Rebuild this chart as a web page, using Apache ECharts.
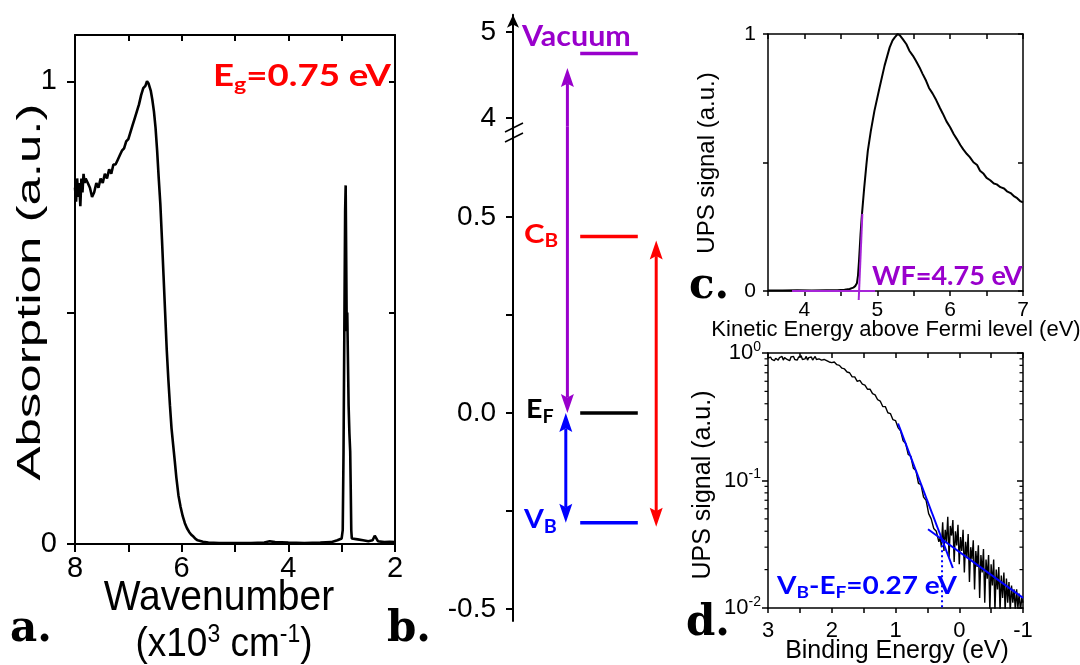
<!DOCTYPE html>
<html><head><meta charset="utf-8">
<script src="https://cdn.jsdelivr.net/npm/echarts@6/dist/echarts.min.js"></script>
<style>html,body{margin:0;padding:0;background:#fff}#c{width:1080px;height:665px}</style>
</head><body><div id="c"></div>
<script>
// ---------------- DATA ----------------
// Panel a: absorption vs wavenumber (x10^3 cm^-1)
const absorption = [
[8.00,0.77],[7.98,0.74],[7.96,0.79],[7.94,0.75],[7.92,0.78],[7.90,0.73],[7.88,0.79],[7.86,0.76],[7.84,0.80],[7.82,0.78],
[7.80,0.79],[7.76,0.78],[7.72,0.77],[7.68,0.75],[7.64,0.76],[7.60,0.78],[7.56,0.77],[7.52,0.79],[7.48,0.78],[7.44,0.80],
[7.40,0.79],[7.36,0.81],[7.32,0.80],[7.28,0.82],[7.24,0.82],[7.20,0.83],[7.16,0.84],[7.12,0.85],[7.08,0.855],[7.04,0.87],
[7.00,0.875],[6.96,0.89],[6.92,0.905],[6.88,0.92],[6.84,0.935],[6.80,0.95],[6.76,0.97],[6.72,0.985],[6.68,0.99],[6.65,1.0],
[6.62,0.995],[6.58,0.98],[6.55,0.96],[6.52,0.935],[6.49,0.90],[6.46,0.85],[6.43,0.79],[6.40,0.735],[6.37,0.66],[6.34,0.58],
[6.31,0.50],[6.28,0.42],[6.25,0.356],[6.22,0.30],[6.19,0.25],[6.16,0.215],[6.13,0.18],[6.10,0.144],[6.06,0.105],[6.02,0.08],
[5.98,0.06],[5.94,0.045],[5.90,0.034],[5.86,0.026],[5.82,0.02],[5.78,0.016],[5.74,0.011],[5.70,0.008],[5.60,0.005],[5.50,0.003],
[5.30,0.002],[5.00,0.002],[4.70,0.002],[4.45,0.003],[4.35,0.006],[4.25,0.004],[4.00,0.003],[3.70,0.002],[3.40,0.003],[3.20,0.004],
[3.08,0.008],[3.00,0.012],[2.98,0.03],[2.965,0.2],[2.95,0.46],[2.935,0.72],[2.925,0.775],[2.915,0.62],[2.905,0.46],[2.895,0.5],
[2.885,0.42],[2.87,0.3],[2.855,0.24],[2.84,0.2],[2.83,0.12],[2.82,0.03],[2.81,0.012],[2.70,0.01],[2.60,0.008],[2.50,0.006],
[2.42,0.008],[2.38,0.018],[2.35,0.02],[2.32,0.006],[2.20,0.004],[2.10,0.005],[2.00,0.004]
];
const aXLabels = [8, 6, 4, 2];
const aYLabels = [0, 1];
const aYTicks = [0, 0.5, 1];

// Panel b: energy levels (eV)
const levelNames = ['Vacuum', 'CB', 'EF', 'VB'];
const levelEnergies = [4.75, 0.45, 0.00, -0.28];
const bUpperTicks = [4, 5];
const bLowerTicks = [-0.5, -0.25, 0, 0.25, 0.5];
const bLowerLabels = [-0.5, 0, 0.5];
const wfArrow = [4.58, 0.00];     // vacuum-side tip, Fermi-side tip
const vbArrow = [0.00, -0.28];
const gapArrow = [0.44, -0.29];

// Panel c: UPS secondary edge
const upsKinetic = [
[3.50,0.002],[3.70,0.002],[3.90,0.003],[4.10,0.002],[4.30,0.003],[4.45,0.003],[4.55,0.005],[4.62,0.008],[4.67,0.013],[4.70,0.02],
[4.72,0.03],[4.735,0.06],[4.75,0.12],[4.77,0.22],[4.79,0.30],[4.82,0.40],[4.85,0.49],[4.87,0.545],[4.91,0.62],[4.96,0.70],
[5.03,0.79],[5.10,0.877],[5.17,0.948],[5.21,0.975],[5.24,0.987],[5.28,1.0],[5.31,0.995],[5.35,0.98],[5.40,0.96],[5.44,0.935],
[5.49,0.915],[5.53,0.896],[5.58,0.87],[5.62,0.846],[5.67,0.818],[5.71,0.79],[5.76,0.768],[5.81,0.742],[5.86,0.712],[5.90,0.69],
[5.95,0.66],[6.00,0.637],[6.05,0.61],[6.09,0.592],[6.14,0.568],[6.18,0.551],[6.23,0.533],[6.27,0.521],[6.32,0.501],[6.37,0.49],
[6.41,0.468],[6.46,0.456],[6.50,0.44],[6.55,0.431],[6.60,0.418],[6.64,0.415],[6.69,0.404],[6.74,0.399],[6.78,0.388],[6.83,0.381],
[6.88,0.368],[6.92,0.361],[6.96,0.35],[7.00,0.345]
];
const wfBaseline = [[3.83, 0], [4.97, 0]];
const wfTangent = [[4.745, -0.035], [4.795, 0.30]];

// Panel d: UPS valence band (log)
const upsBinding = [
[3.00,0.91],[2.98,0.88],[2.96,0.93],[2.94,0.89],[2.92,0.92],[2.90,0.87],[2.88,0.91],[2.86,0.94],[2.84,0.88],[2.82,0.92],
[2.80,0.90],[2.78,0.94],[2.76,0.88],[2.74,0.92],[2.72,0.95],[2.70,0.89],[2.68,0.91],[2.66,0.87],[2.64,0.93],[2.62,0.90],
[2.60,0.94],[2.58,0.89],[2.56,0.92],[2.54,0.88],[2.52,0.93],[2.50,0.90],[2.48,0.95],[2.46,0.89],[2.44,0.92],[2.42,0.90],
[2.40,0.94],[2.38,0.88],[2.36,0.92],[2.34,0.90],[2.32,0.93],[2.30,0.88],[2.28,0.91],[2.26,0.94],[2.24,0.89],[2.22,0.92],
[2.20,0.90],[2.18,0.93],[2.16,0.88],[2.14,0.91],[2.12,0.89],[2.10,0.90],[2.08,0.87],[2.06,0.89],[2.04,0.85],[2.02,0.87],
[2.00,0.84],[1.96,0.85],[1.92,0.81],[1.88,0.80],[1.84,0.76],
[1.80,0.75],[1.76,0.71],[1.72,0.70],[1.68,0.65],[1.64,0.65],[1.60,0.60],[1.56,0.61],[1.52,0.57],[1.48,0.56],[1.44,0.52],
[1.40,0.52],[1.36,0.48],[1.32,0.47],[1.28,0.43],[1.24,0.42],[1.20,0.38],[1.16,0.38],[1.12,0.34],[1.08,0.335],[1.04,0.30],
[1.00,0.295],[0.96,0.26],[0.92,0.245],[0.88,0.205],[0.84,0.195],[0.80,0.16],[0.76,0.155],[0.72,0.125],[0.68,0.12],[0.64,0.095],
[0.60,0.093],[0.56,0.074],[0.52,0.07],[0.48,0.055],[0.44,0.05],[0.40,0.042],[0.36,0.04],[0.32,0.033],
[0.30,0.036],[0.28,0.030],[0.26,0.047],[0.24,0.028],[0.22,0.041],[0.20,0.033],[0.18,0.052],[0.16,0.025],[0.14,0.044],[0.12,0.037],
[0.10,0.049],[0.08,0.023],[0.06,0.040],[0.04,0.031],[0.02,0.045],[0.00,0.022],[-0.02,0.036],[-0.04,0.028],[-0.06,0.041],[-0.08,0.019],
[-0.10,0.033],[-0.12,0.025],[-0.14,0.038],[-0.16,0.016],[-0.18,0.030],[-0.20,0.024],[-0.22,0.034],[-0.24,0.014],[-0.26,0.028],[-0.28,0.021],
[-0.30,0.031],[-0.32,0.012],[-0.34,0.026],[-0.36,0.019],[-0.38,0.029],[-0.40,0.011],[-0.42,0.024],[-0.44,0.017],[-0.46,0.026],[-0.48,0.0095],
[-0.50,0.022],[-0.52,0.015],[-0.54,0.024],[-0.56,0.0095],[-0.58,0.020],[-0.60,0.014],[-0.62,0.021],[-0.64,0.0095],[-0.66,0.018],[-0.68,0.012],
[-0.70,0.019],[-0.72,0.0095],[-0.74,0.017],[-0.76,0.011],[-0.78,0.016],[-0.80,0.0095],[-0.82,0.015],[-0.84,0.011],[-0.86,0.014],[-0.88,0.0095],
[-0.90,0.014],[-0.92,0.010],[-0.94,0.013],[-0.96,0.0095],[-0.98,0.012],[-1.00,0.011]
];
const vbFitSteep = [[0.96, 0.28], [0.10, 0.0206]];
const vbFitTail = [[0.49, 0.0415], [-1.00, 0.012]];
const vbOnset = [[0.27, 0.034], [0.27, 0.01]];
const dMinorTicks = [0.02,0.03,0.04,0.05,0.06,0.07,0.08,0.09,0.2,0.3,0.4,0.5,0.6,0.7,0.8,0.9];

// ---------------- LAYOUT / STYLE ----------------
const K = '#000', RED = '#ff0000', BLUE = '#0000ff', PURPLE = '#9900cc', PURPLE2 = '#a625d8';
const FONT = "'Liberation Sans', Arial, sans-serif";
const BFONT = "Lato, 'Open Sans', sans-serif";
const LFONT = "'DejaVu Serif', serif";
const bLevelX = [0.42, 0.78];
const bArrowX = {wf: 0.34, vb: 0.33, gap: 0.895};
const bLevelColors = [PURPLE, RED, K, BLUE];
const bUpperRange = [3.9, 5.2];
const bLowerRange = [-0.5306, 0.7306];
const dXRange = [-1, 3];

const chart = echarts.init(document.getElementById('c'));

function ax(o) {
  const base = {
    type: 'value', splitLine: {show: false},
    axisLine: {onZero: false, lineStyle: {color: K, width: 1.5}},
    axisTick: {lineStyle: {color: K, width: 1.5}},
    axisLabel: {color: K, fontFamily: FONT}
  };
  for (const k in o) {
    if (typeof o[k] === 'object' && o[k] && !Array.isArray(o[k]) && base[k] && typeof base[k] === 'object') {
      base[k] = Object.assign({}, base[k], o[k]);
    } else base[k] = o[k];
  }
  return base;
}
function line(data, xi, yi, color, width, extra) {
  return Object.assign({type: 'line', data, xAxisIndex: xi, yAxisIndex: yi, showSymbol: false, symbol: 'none',
    lineStyle: {color, width}, silent: true, animation: false}, extra || {});
}
function arrowSeries(xi, yi, items, color) {
  return {
    type: 'custom', xAxisIndex: xi, yAxisIndex: yi, clip: false, silent: true, z: 5, data: items,
    renderItem: (params, api) => {
      const p1 = api.coord([api.value(0), api.value(1)]);
      const p2 = api.coord([api.value(0), api.value(2)]);
      const hs = api.value(3), he = api.value(4);
      const dir = p2[1] > p1[1] ? 1 : -1;
      const L = 19, W = 6.5, N = 0.82;
      const ch = [];
      let s1 = p1[1], e1 = p2[1];
      if (hs) {
        ch.push({type: 'polygon', shape: {points: [[p1[0], p1[1]], [p1[0] - W, p1[1] + dir * L], [p1[0], p1[1] + dir * L * N], [p1[0] + W, p1[1] + dir * L]]}, style: {fill: color}});
        s1 = p1[1] + dir * L * N;
      }
      if (he) {
        ch.push({type: 'polygon', shape: {points: [[p2[0], p2[1]], [p2[0] - W, p2[1] - dir * L], [p2[0], p2[1] - dir * L * N], [p2[0] + W, p2[1] - dir * L]]}, style: {fill: color}});
        e1 = p2[1] - dir * L * N;
      }
      ch.push({type: 'line', shape: {x1: p1[0], y1: s1, x2: p2[0], y2: e1}, style: {stroke: color, lineWidth: 3}});
      return {type: 'group', children: ch};
    }
  };
}

const supRich = (bs, ss) => ({b: {fontSize: bs, fontFamily: FONT, lineHeight: bs + 4}, s: {fontSize: ss, fontFamily: FONT, verticalAlign: 'top', lineHeight: ss}});

const grids = [
  {left: 75, top: 35, width: 320, height: 509},
  {left: 513, top: 14.8, width: 160, height: 111.8},
  {left: 513, top: 126.6, width: 160, height: 494.4},
  {left: 768, top: 34, width: 255, height: 257},
  {left: 768, top: 353, width: 255, height: 255}
].map(g => Object.assign({outerBoundsMode: 'none', containLabel: false}, g));

const xAxis = [
  ax({gridIndex: 0, min: 2, max: 8, interval: 1, inverse: true, position: 'bottom',
      axisLine: {lineStyle: {color: K, width: 2}}, axisTick: {length: 8, lineStyle: {color: K, width: 2}},
      axisLabel: {fontSize: 29, margin: 10, formatter: v => aXLabels.includes(v) ? String(v) : ''}}),
  ax({gridIndex: 0, min: 2, max: 8, interval: 1, inverse: true, position: 'top',
      axisLine: {lineStyle: {color: K, width: 2}}, axisTick: {inside: true, length: 6, lineStyle: {color: K, width: 2}},
      axisLabel: {show: false}}),
  {gridIndex: 1, type: 'value', show: false, min: 0, max: 1},
  {gridIndex: 2, type: 'value', show: false, min: 0, max: 1},
  ax({gridIndex: 3, min: 3.5, max: 7, interval: 0.5, position: 'bottom', axisTick: {length: 5},
      axisLabel: {fontSize: 21, margin: 9, formatter: v => Number.isInteger(v) ? String(v) : ''}}),
  ax({gridIndex: 3, min: 3.5, max: 7, interval: 0.5, position: 'top', axisTick: {inside: true, length: 5}, axisLabel: {show: false}}),
  ax({gridIndex: 4, min: dXRange[0], max: dXRange[1], interval: 0.5, inverse: true, position: 'bottom', axisTick: {length: 5},
      axisLabel: {fontSize: 22, margin: 12, formatter: v => Number.isInteger(v) ? String(v) : ''}}),
  ax({gridIndex: 4, min: dXRange[0], max: dXRange[1], interval: 0.5, inverse: true, position: 'top', axisTick: {inside: true, length: 5}, axisLabel: {show: false}})
];

const yAxis = [
  ax({gridIndex: 0, min: 0, max: 1.1, position: 'left',
      axisLine: {lineStyle: {color: K, width: 2}}, axisTick: {length: 8, customValues: aYTicks, lineStyle: {color: K, width: 2}},
      axisLabel: {fontSize: 29, margin: 18, customValues: aYLabels, formatter: v => String(v)}}),
  ax({gridIndex: 0, min: 0, max: 1.1, position: 'right',
      axisLine: {lineStyle: {color: K, width: 2}}, axisTick: {inside: true, length: 6, customValues: aYTicks, lineStyle: {color: K, width: 2}},
      axisLabel: {show: false}}),
  ax({gridIndex: 1, min: bUpperRange[0], max: bUpperRange[1], position: 'left',
      axisLine: {symbol: ['none', 'arrow'], symbolSize: [9, 13], lineStyle: {color: K, width: 2}},
      axisTick: {length: 7, customValues: bUpperTicks, lineStyle: {color: K, width: 2}},
      axisLabel: {fontSize: 28, margin: 17, customValues: bUpperTicks, formatter: v => String(v)}}),
  ax({gridIndex: 2, min: bLowerRange[0], max: bLowerRange[1], position: 'left',
      axisLine: {lineStyle: {color: K, width: 2}},
      axisTick: {length: 7, customValues: bLowerTicks, lineStyle: {color: K, width: 2}},
      axisLabel: {fontSize: 28, margin: 17, customValues: bLowerLabels, formatter: v => v.toFixed(1)}}),
  ax({gridIndex: 3, min: 0, max: 1, interval: 0.5, position: 'left', axisTick: {length: 5},
      axisLabel: {fontSize: 21, margin: 12, formatter: v => (v === 0 || v === 1) ? String(v) : ''}}),
  ax({gridIndex: 3, min: 0, max: 1, interval: 0.5, position: 'right', axisTick: {inside: true, length: 5}, axisLabel: {show: false}}),
  ax({gridIndex: 4, type: 'log', logBase: 10, min: 0.01, max: 1, position: 'left', axisTick: {length: 6},
      axisLabel: {margin: 7, rich: supRich(22, 14), formatter: v => '{b|10}{s|' + Math.round(Math.log10(v)) + '}'}}),
  ax({gridIndex: 4, type: 'log', logBase: 10, min: 0.01, max: 1, position: 'right', axisTick: {inside: true, length: 6}, axisLabel: {show: false}})
];

const series = [];
// a
series.push(line(absorption, 0, 0, K, 2.6));
// b levels
levelEnergies.forEach((E, i) => {
  const upper = E >= bUpperRange[0];
  series.push(line([[bLevelX[0], E], [bLevelX[1], E]], upper ? 2 : 3, upper ? 2 : 3, bLevelColors[i], 3.5));
});
// b arrows
series.push(arrowSeries(2, 2, [[bArrowX.wf, wfArrow[0], bUpperRange[0], 1, 0]], PURPLE));
series.push(arrowSeries(3, 3, [[bArrowX.wf, bLowerRange[1], wfArrow[1], 0, 1]], PURPLE));
series.push(arrowSeries(3, 3, [[bArrowX.vb, vbArrow[0], vbArrow[1], 1, 1]], BLUE));
series.push(arrowSeries(3, 3, [[bArrowX.gap, gapArrow[0], gapArrow[1], 1, 1]], RED));
// c
series.push(line(upsKinetic, 4, 4, K, 2));
series.push(line(wfBaseline, 4, 4, PURPLE2, 2, {clip: false, z: 4}));
series.push(line(wfTangent, 4, 4, PURPLE2, 2, {clip: false, z: 4}));
// d
series.push(line(upsBinding, 6, 6, K, 1.4));
series.push(line(vbFitSteep, 6, 6, BLUE, 2, {z: 4}));
series.push(line(vbFitTail, 6, 6, BLUE, 2, {z: 4}));
series.push(line(vbOnset, 6, 6, BLUE, 2, {z: 4, lineStyle: {color: BLUE, width: 2, type: [2, 3]}}));
series.push({
  type: 'custom', xAxisIndex: 6, yAxisIndex: 6, clip: false, silent: true, z: 3,
  data: dMinorTicks.map(v => [dXRange[1], v]),
  renderItem: (params, api) => {
    const v = api.value(1);
    const L = api.coord([dXRange[1], v]);
    const R = api.coord([dXRange[0], v]);
    return {type: 'group', children: [
      {type: 'line', shape: {x1: L[0] - 3.5, y1: L[1], x2: L[0], y2: L[1]}, style: {stroke: K, lineWidth: 1.2}},
      {type: 'line', shape: {x1: R[0] - 3.5, y1: R[1], x2: R[0], y2: R[1]}, style: {stroke: K, lineWidth: 1.2}}
    ]};
  }
});

function txt(x, y, text, o) {
  const st = Object.assign({text, fill: K, fontFamily: FONT, fontSize: 20, align: 'center', verticalAlign: 'middle',
    textAlign: 'center', textVerticalAlign: 'middle'}, o.style || {});
  if (st.align) st.textAlign = st.align;
  const el = {type: 'text', x, y, z: 100, style: st, silent: true};
  if (o.rotation) el.rotation = o.rotation;
  if (o.scaleX) el.scaleX = o.scaleX;
  if (o.scaleY) el.scaleY = o.scaleY;
  return el;
}
const subRich = (color, bs, ss) => ({
  m: {fontSize: bs, fontFamily: BFONT, fontWeight: 'bold', fill: color, lineHeight: bs + 6},
  s: {fontSize: ss, fontFamily: BFONT, fontWeight: 'bold', fill: color, verticalAlign: 'bottom', lineHeight: ss}
});

const graphic = [
  // panel letters
  txt(10, 630, 'a.', {style: {fontFamily: LFONT, fontWeight: 'bold', fontSize: 42, align: 'left'}}),
  txt(387, 630, 'b.', {style: {fontFamily: LFONT, fontWeight: 'bold', fontSize: 42, align: 'left'}}),
  txt(689, 287, 'c.', {style: {fontFamily: LFONT, fontWeight: 'bold', fontSize: 42, align: 'left'}}),
  txt(686, 624, 'd.', {style: {fontFamily: LFONT, fontWeight: 'bold', fontSize: 42, align: 'left'}}),
  // axis titles
  txt(31, 292, 'Absorption (a.u.)', {rotation: Math.PI / 2, scaleX: 1.5, style: {fontSize: 34}}),
  txt(219, 598, 'Wavenumber', {scaleY: 1.1, style: {fontSize: 39}}),
  txt(224, 645, '{b|(x10}{s|3}{b| cm}{s|-1}{b|)}', {scaleY: 1.1, style: {rich: supRich(37, 23)}}),
  txt(707, 163, 'UPS signal (a.u.)', {rotation: Math.PI / 2, style: {fontSize: 24}}),
  txt(896, 330, 'Kinetic Energy above Fermi level (eV)', {style: {fontSize: 22}}),
  txt(703, 485, 'UPS signal (a.u.)', {rotation: Math.PI / 2, style: {fontSize: 25}}),
  txt(897, 651, 'Binding Energy (eV)', {style: {fontSize: 25}}),
  // annotations
  txt(213, 76, '{m|E}{s|g}{m|=0.75 eV}', {scaleX: 1.22, style: {align: 'left', rich: subRich(RED, 30, 19)}}),
  txt(522, 37, '{m|Vacuum}', {scaleX: 1.05, style: {align: 'left', rich: subRich(PURPLE, 29, 18)}}),
  txt(524, 234, '{m|C}{s|B}', {scaleX: 1.15, style: {align: 'left', rich: subRich(RED, 27, 18)}}),
  txt(526, 410, '{m|E}{s|F}', {scaleX: 1.1, style: {align: 'left', rich: subRich(K, 26, 18)}}),
  txt(524, 520, '{m|V}{s|B}', {scaleX: 1.1, style: {align: 'left', rich: subRich(BLUE, 26, 18)}}),
  txt(872, 277, '{m|WF=4.75 eV}', {scaleX: 1.04, style: {align: 'left', rich: subRich(PURPLE, 26, 16)}}),
  txt(777, 586, '{m|V}{s|B}{m|-E}{s|F}{m|=0.27 eV}', {scaleX: 1.12, style: {align: 'left', rich: subRich(BLUE, 25, 17)}}),
  // axis break marks
  {type: 'line', z: 100, shape: {x1: 505, y1: 132, x2: 523, y2: 123}, style: {stroke: K, lineWidth: 1.5}},
  {type: 'line', z: 100, shape: {x1: 505, y1: 142, x2: 523, y2: 133}, style: {stroke: K, lineWidth: 1.5}}
];

chart.setOption({animation: false, backgroundColor: '#fff', grid: grids, xAxis, yAxis, series, graphic});
</script></body></html>
